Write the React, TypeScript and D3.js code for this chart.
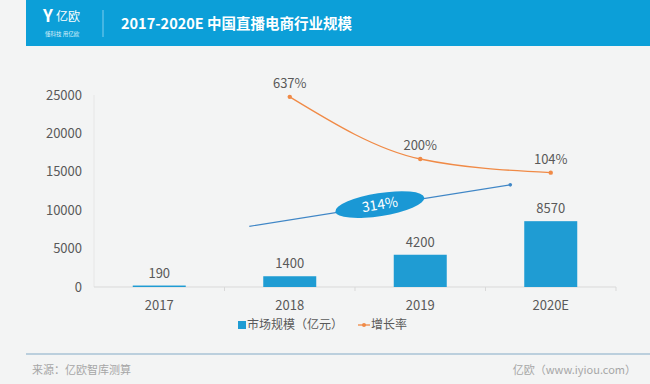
import { useEffect, useRef } from 'react';
import * as d3 from 'd3';

const years = ['2017', '2018', '2019', '2020E'];
const marketSize = [190, 1400, 4200, 8570];
const growthYears = ['2018', '2019', '2020E'];
const growthRate = [637, 200, 104];
const yTicks = [0, 5000, 10000, 15000, 20000, 25000];
const cagrLabel = '314%';
// CAGR arrow, in data terms: [category, value]
const cagrFrom: [string, number] = ['2018', 7900];
const cagrTo: [string, number] = ['2020E', 13300];

const FONT = '"Noto Sans CJK SC", "Open Sans", sans-serif';

export default function App() {
  const ref = useRef<SVGSVGElement>(null);

  useEffect(() => {
    if (!ref.current) return;
    const svg = d3.select(ref.current);
    svg.selectAll('*').remove();

    const W = 650;
    const H = 384;
    const left = 94;
    const right = 616;
    const top = 95;
    const bottom = 287;

    svg.append('rect').attr('width', W).attr('height', H).attr('fill', '#f3f4f4');

    // header band
    svg.append('rect').attr('x', 26).attr('y', 0).attr('width', W - 26).attr('height', 46).attr('fill', '#0c9fd8');
    svg.append('text').attr('x', 43).attr('y', 22).attr('fill', '#fff')
      .style('font', `bold 17px ${FONT}`).text('Y');
    svg.append('text').attr('x', 56).attr('y', 21).attr('fill', '#fff')
      .style('font', `12px ${FONT}`).text('亿欧');
    svg.append('text').attr('x', 45).attr('y', 36).attr('fill', '#dff2fb')
      .style('font', `5.5px ${FONT}`).text('懂科技 用亿欧');
    svg.append('line').attr('x1', 103).attr('x2', 103).attr('y1', 10).attr('y2', 37)
      .attr('stroke', '#7fcdee').attr('stroke-width', 1);
    svg.append('text').attr('x', 121).attr('y', 28.5).attr('fill', '#fff')
      .style('font', `bold 14.5px ${FONT}`).text('2017-2020E 中国直播电商行业规模');

    const x = d3.scaleBand().domain(years).range([left, right]).padding(0);
    const bw = 53;
    const y = d3.scaleLinear().domain([0, 25000]).range([bottom, top]);
    const yRate = d3.scaleLinear().domain([-700, 650]).range([bottom, top]);
    const cx = (c: string) => (x(c) as number) + x.bandwidth() / 2;

    const g = svg.append('g');

    // axes
    g.append('line').attr('x1', left).attr('x2', left).attr('y1', top).attr('y2', bottom)
      .attr('stroke', '#e6e6e6');
    g.append('line').attr('x1', left).attr('x2', right).attr('y1', bottom).attr('y2', bottom)
      .attr('stroke', '#d9d9d9');
    g.selectAll('.xtick').data(years.slice(1).concat(['end'])).join('line')
      .attr('x1', (d, i) => left + x.step() * (i + 1))
      .attr('x2', (d, i) => left + x.step() * (i + 1))
      .attr('y1', bottom).attr('y2', bottom + 4).attr('stroke', '#d9d9d9');

    g.selectAll('.ylab').data(yTicks).join('text')
      .attr('x', 82).attr('y', d => y(d)).attr('dy', '0.35em')
      .attr('text-anchor', 'end').attr('fill', '#595959')
      .style('font', `13px ${FONT}`).text(d => d);

    g.selectAll('.xlab').data(years).join('text')
      .attr('x', d => cx(d)).attr('y', 310).attr('text-anchor', 'middle')
      .attr('fill', '#595959').style('font', `13px ${FONT}`).text(d => d);

    // bars
    g.selectAll('.bar').data(marketSize).join('rect')
      .attr('x', (d, i) => cx(years[i]) - bw / 2)
      .attr('width', bw)
      .attr('y', d => y(d))
      .attr('height', d => bottom - y(d))
      .attr('fill', '#1f9cd3');
    g.selectAll('.blab').data(marketSize).join('text')
      .attr('x', (d, i) => cx(years[i])).attr('y', d => y(d) - 8)
      .attr('text-anchor', 'middle').attr('fill', '#595959')
      .style('font', `13px ${FONT}`).text(d => d);

    // growth line
    const pts: [number, number][] = growthRate.map((v, i) => [cx(growthYears[i]), yRate(v)]);
    g.append('path')
      .attr('d', d3.line().curve(d3.curveMonotoneX)(pts))
      .attr('fill', 'none').attr('stroke', '#f08a46').attr('stroke-width', 1.3);
    g.selectAll('.gdot').data(pts).join('circle')
      .attr('cx', d => d[0]).attr('cy', d => d[1]).attr('r', 2.2).attr('fill', '#f08a46');
    g.selectAll('.glab').data(growthRate).join('text')
      .attr('x', (d, i) => cx(growthYears[i])).attr('y', d => yRate(d) - 9)
      .attr('text-anchor', 'middle').attr('fill', '#595959')
      .style('font', `13px ${FONT}`).text(d => `${d}%`);

    // CAGR annotation
    const ax = (c: string) => (x(c) as number) + x.step() * 0.19;
    const x1 = ax(cagrFrom[0]);
    const y1 = y(cagrFrom[1]);
    const x2 = ax(cagrTo[0]);
    const y2 = y(cagrTo[1]);
    g.append('line').attr('x1', x1).attr('y1', y1).attr('x2', x2).attr('y2', y2)
      .attr('stroke', '#3f86c6').attr('stroke-width', 1.2);
    g.append('circle').attr('cx', x2).attr('cy', y2).attr('r', 1.8).attr('fill', '#3f86c6');
    const angle = (Math.atan2(y2 - y1, x2 - x1) * 180) / Math.PI;
    const mx = (x1 + x2) / 2;
    const my = (y1 + y2) / 2 - 1;
    const ann = g.append('g').attr('transform', `translate(${mx},${my}) rotate(${angle})`);
    ann.append('ellipse').attr('rx', 45).attr('ry', 11.5).attr('fill', '#1a98d5');
    ann.append('text').attr('y', 0).attr('dy', '0.35em').attr('text-anchor', 'middle')
      .attr('fill', '#fff').style('font', `14px ${FONT}`).text(cagrLabel);

    // legend
    const lg = g.append('g').attr('transform', 'translate(0,325)');
    lg.append('rect').attr('x', 238).attr('y', -4).attr('width', 8).attr('height', 8).attr('fill', '#1f9cd3');
    lg.append('text').attr('x', 247).attr('dy', '0.35em').attr('fill', '#595959')
      .style('font', `12px ${FONT}`).text('市场规模（亿元）');
    lg.append('line').attr('x1', 358).attr('x2', 370).attr('y1', 0).attr('y2', 0)
      .attr('stroke', '#f08a46').attr('stroke-width', 1.3);
    lg.append('circle').attr('cx', 364).attr('cy', 0).attr('r', 2).attr('fill', '#f08a46');
    lg.append('text').attr('x', 371).attr('dy', '0.35em').attr('fill', '#595959')
      .style('font', `12px ${FONT}`).text('增长率');

    // footer
    svg.append('line').attr('x1', 26).attr('x2', W).attr('y1', 354).attr('y2', 354)
      .attr('stroke', '#a9c3d6').attr('stroke-width', 1.5);
    svg.append('text').attr('x', 32).attr('y', 374).attr('fill', '#a6a6a6')
      .style('font', `11px ${FONT}`).text('来源：亿欧智库测算');
    svg.append('text').attr('x', 636).attr('y', 374).attr('text-anchor', 'end').attr('fill', '#a6a6a6')
      .style('font', `11px ${FONT}`).text('亿欧（www.iyiou.com）');
  }, []);

  return (
    <svg ref={ref} width={650} height={384} style={{ position: 'absolute', left: 0, top: 0 }} />
  );
}
